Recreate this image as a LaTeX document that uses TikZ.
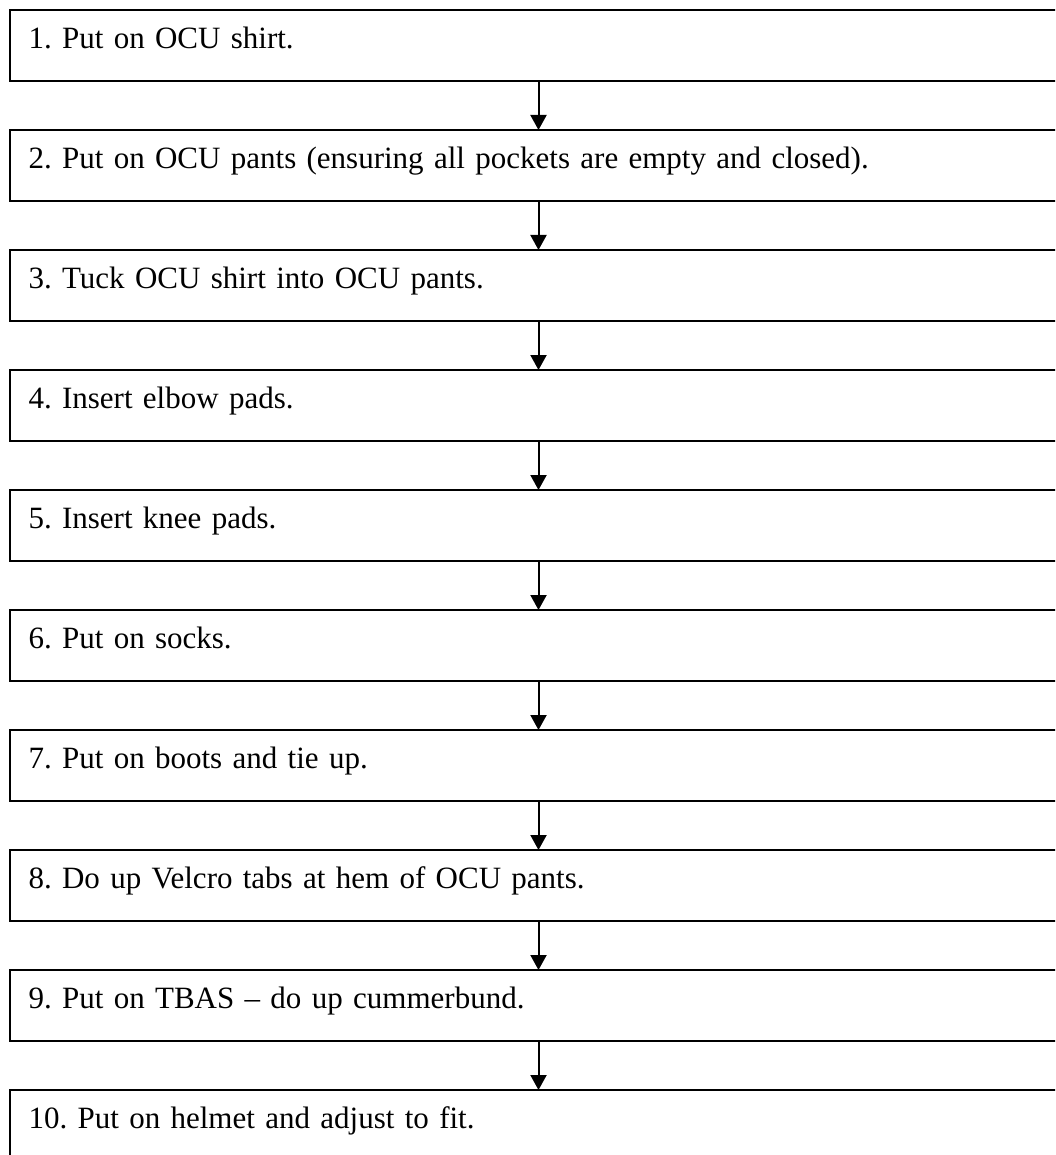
\documentclass[tikz,border=0pt]{standalone}
\usepackage{fontspec}
\setmainfont{Liberation Serif}
\usetikzlibrary{arrows.meta}
\frenchspacing
\tikzset{
  stepbox/.style={draw=black, line width=2pt, rectangle, outer sep=0pt,
    anchor=north west, inner xsep=19pt, inner ysep=0pt,
    text width=1032pt, align=left, minimum height=71pt,
    text height=21pt, text depth=15pt,
    font=\fontsize{31}{36}\selectfont\frenchspacing},
  flow/.style={draw=black, line width=2pt, -{Triangle[length=15pt,width=16pt]}}
}
\begin{document}
\begin{tikzpicture}[x=1pt,y=-1pt]
\useasboundingbox (0,0) rectangle (1055,1155);
\clip (0,0) rectangle (1055,1155);
\coordinate (ax) at (538.5,0);
\node[stepbox] (b1)  at (9.5,10)   {1. Put on OCU shirt.};
\node[stepbox] (b2)  at (9.5,130)  {2. Put on OCU pants (ensuring all pockets are empty and closed).};
\node[stepbox] (b3)  at (9.5,250)  {3. Tuck OCU shirt into OCU pants.};
\node[stepbox] (b4)  at (9.5,370)  {4. Insert elbow pads.};
\node[stepbox] (b5)  at (9.5,490)  {5. Insert knee pads.};
\node[stepbox] (b6)  at (9.5,610)  {6. Put on socks.};
\node[stepbox] (b7)  at (9.5,730)  {7. Put on boots and tie up.};
\node[stepbox] (b8)  at (9.5,850)  {8. Do up Velcro tabs at hem of OCU pants.};
\node[stepbox] (b9)  at (9.5,970)  {9. Put on TBAS – do up cummerbund.};
\node[stepbox] (b10) at (9.5,1090) {10. Put on helmet and adjust to fit.};
\foreach \a/\b in {b1/b2,b2/b3,b3/b4,b4/b5,b5/b6,b6/b7,b7/b8,b8/b9,b9/b10}
  \draw[flow] (\a.south -| ax) -- (\b.north -| ax);
\end{tikzpicture}
\end{document}
